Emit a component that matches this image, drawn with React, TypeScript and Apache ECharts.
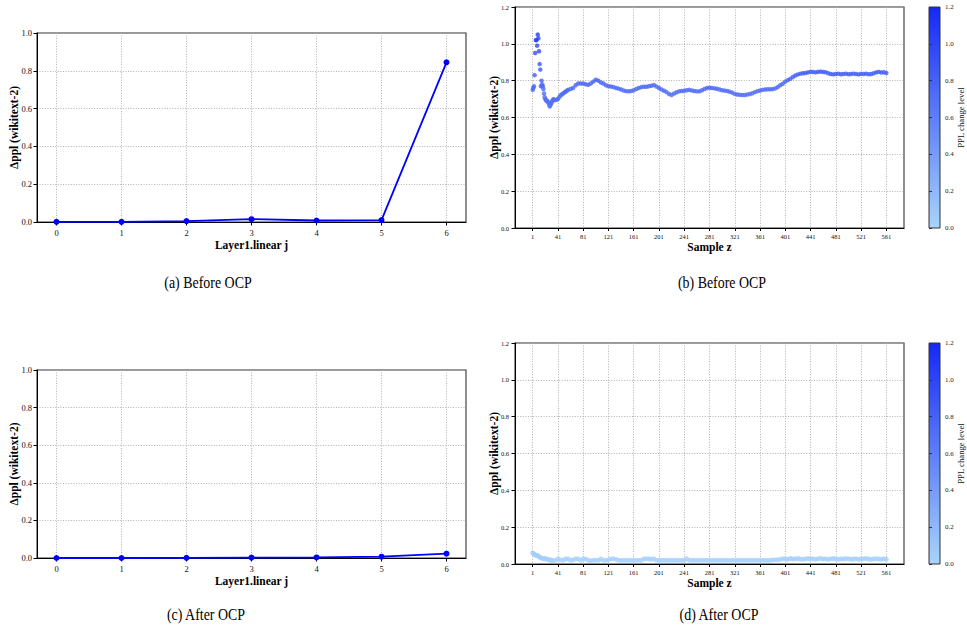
import React, { useEffect, useRef } from "react";
import * as echarts from "echarts";

// ---------- data ----------
const layerTicks = [0, 1, 2, 3, 4, 5, 6];
const beforeLayerDelta = [0.001, 0.001, 0.005, 0.015, 0.008, 0.01, 0.845];
const afterLayerDelta = [0.0, 0.0, 0.001, 0.002, 0.003, 0.007, 0.023];

const sampleTicks = [1, 41, 81, 121, 161, 201, 241, 281, 321, 361, 401, 441, 481, 521, 561];

// (b) before OCP: [sample, delta ppl]
const beforeSamplePoints: [number, number][] = [
  [1, 0.75], [2, 0.76], [3, 0.77], [4, 0.83], [5, 0.95], [6, 1.02], [7, 1.02], [8, 0.99],
  [9, 1.05], [10, 1.03], [11, 0.96], [12, 0.89], [13, 0.86], [14, 0.77], [15, 0.8], [16, 0.78],
  [17, 0.77], [18, 0.755], [19, 0.73], [20, 0.71], [21, 0.7], [22, 0.695], [23, 0.69], [24, 0.69],
  [25, 0.685], [26, 0.68], [27, 0.67], [28, 0.66], [29, 0.665], [30, 0.675], [31, 0.68], [32, 0.69],
  [33, 0.695], [34, 0.7], [35, 0.695], [37, 0.695], [39, 0.697],
  [41, 0.7], [43, 0.71], [45, 0.72], [47, 0.725], [49, 0.73], [51, 0.735], [53, 0.74], [55, 0.745], [57, 0.75],
  [61, 0.755], [65, 0.76], [69, 0.775], [73, 0.785], [77, 0.785], [81, 0.785], [85, 0.78], [89, 0.778],
  [93, 0.785], [97, 0.795], [101, 0.805], [105, 0.8], [109, 0.79], [113, 0.785], [117, 0.775], [121, 0.77],
  [125, 0.768], [129, 0.765], [133, 0.76], [137, 0.757], [141, 0.752], [145, 0.747], [149, 0.743], [153, 0.742],
  [157, 0.744], [161, 0.748], [165, 0.755], [169, 0.76], [173, 0.765], [177, 0.767], [181, 0.767], [185, 0.77],
  [189, 0.772], [193, 0.776], [197, 0.768], [201, 0.76], [205, 0.752], [209, 0.745], [213, 0.738], [217, 0.728],
  [221, 0.722], [225, 0.73], [229, 0.737], [233, 0.742], [237, 0.744], [241, 0.745], [245, 0.748], [249, 0.75],
  [253, 0.747], [257, 0.744], [261, 0.742], [265, 0.742], [269, 0.748], [273, 0.755], [277, 0.76], [281, 0.762],
  [285, 0.76], [289, 0.758], [293, 0.756], [297, 0.752], [301, 0.748], [305, 0.746], [309, 0.744], [313, 0.74],
  [317, 0.735], [321, 0.728], [325, 0.725], [329, 0.723], [333, 0.722], [337, 0.722], [341, 0.725], [345, 0.728],
  [349, 0.732], [353, 0.738], [357, 0.743], [361, 0.747], [365, 0.75], [369, 0.752], [373, 0.753], [377, 0.753],
  [381, 0.754], [385, 0.758], [389, 0.765], [393, 0.775], [397, 0.783], [401, 0.795], [405, 0.803], [409, 0.81],
  [413, 0.82], [417, 0.828], [421, 0.834], [425, 0.838], [429, 0.84], [433, 0.842], [437, 0.845], [441, 0.848],
  [445, 0.847], [449, 0.845], [453, 0.848], [457, 0.849], [461, 0.847], [465, 0.846], [469, 0.84], [473, 0.836],
  [477, 0.834], [481, 0.836], [485, 0.838], [489, 0.835], [493, 0.836], [497, 0.838], [501, 0.835], [505, 0.836],
  [509, 0.838], [513, 0.836], [517, 0.834], [521, 0.837], [525, 0.836], [529, 0.838], [533, 0.835], [537, 0.836],
  [541, 0.84], [545, 0.845], [549, 0.848], [553, 0.844], [557, 0.846], [561, 0.842],
];

// (d) after OCP: [sample, delta ppl]
const afterSamplePoints: [number, number][] = [
  [1, 0.06], [3, 0.055], [5, 0.05], [7, 0.046], [9, 0.045], [11, 0.04], [13, 0.035], [15, 0.032],
  [17, 0.03], [19, 0.03], [21, 0.028], [23, 0.027], [25, 0.025], [27, 0.023], [29, 0.022], [31, 0.02],
  [33, 0.02], [37, 0.02], [41, 0.028], [45, 0.022], [49, 0.02], [53, 0.027], [57, 0.028], [61, 0.02],
  [65, 0.022], [69, 0.028], [73, 0.028], [77, 0.02], [81, 0.028], [85, 0.027], [89, 0.02], [93, 0.018],
  [97, 0.02], [101, 0.02], [105, 0.02], [109, 0.027], [113, 0.02], [117, 0.02], [121, 0.022], [125, 0.028],
  [129, 0.028], [133, 0.025], [137, 0.02], [141, 0.02], [145, 0.02], [149, 0.02], [153, 0.02], [157, 0.02],
  [161, 0.02], [165, 0.02], [169, 0.02], [173, 0.02], [177, 0.028], [181, 0.028], [185, 0.028], [189, 0.025],
  [193, 0.028], [197, 0.02], [201, 0.02], [205, 0.02], [209, 0.02], [213, 0.02], [217, 0.02], [221, 0.02],
  [225, 0.02], [229, 0.02], [233, 0.02], [237, 0.02], [241, 0.02], [245, 0.028], [249, 0.02], [253, 0.02],
  [257, 0.02], [261, 0.02], [265, 0.02], [269, 0.02], [273, 0.02], [277, 0.02], [281, 0.02], [285, 0.02],
  [289, 0.02], [293, 0.02], [297, 0.02], [301, 0.02], [305, 0.02], [309, 0.02], [313, 0.02], [317, 0.02],
  [321, 0.02], [325, 0.02], [329, 0.02], [333, 0.02], [337, 0.02], [341, 0.02], [345, 0.02], [349, 0.02],
  [353, 0.02], [357, 0.02], [361, 0.02], [365, 0.02], [369, 0.02], [373, 0.02], [377, 0.02], [381, 0.022],
  [385, 0.022], [389, 0.022], [393, 0.025], [397, 0.028], [401, 0.028], [405, 0.025], [409, 0.03], [413, 0.027],
  [417, 0.028], [421, 0.03], [425, 0.027], [429, 0.025], [433, 0.028], [437, 0.03], [441, 0.027], [445, 0.028],
  [449, 0.025], [453, 0.028], [457, 0.03], [461, 0.027], [465, 0.028], [469, 0.025], [473, 0.028], [477, 0.03],
  [481, 0.027], [485, 0.025], [489, 0.028], [493, 0.027], [497, 0.03], [501, 0.028], [505, 0.025], [509, 0.027],
  [513, 0.028], [517, 0.025], [521, 0.027], [525, 0.028], [529, 0.03], [533, 0.027], [537, 0.025], [541, 0.028],
  [545, 0.028], [549, 0.027], [553, 0.025], [557, 0.028], [561, 0.025],
];

const captions = ["(a) Before OCP", "(b) Before OCP", "(c) After OCP", "(d) After OCP"];

// ---------- styling ----------
const SERIF = "Liberation Serif, DejaVu Serif, serif";
const LIGHT = "#a9d4fb";
const DARK = "#1528f5";
const LINE_BLUE = "#0000ff";
const TICK_TEXT = "#111";

const splitLine = {
  show: true,
  lineStyle: { color: "#a8a8a8", width: 0.9, type: [1, 1.6] as any },
};
const axisLine = { show: true, onZero: false, lineStyle: { color: "#000", width: 1 } };
const nameStyle = { fontFamily: SERIF, fontWeight: "bold" as const, fontSize: 11.5, color: "#000" };

function layerXAxis(gridIndex: number) {
  return {
    type: "value",
    gridIndex,
    min: -0.3,
    max: 6.3,
    name: "Layer1.linear j",
    nameLocation: "middle",
    nameGap: 17,
    nameMoveOverlap: false,
    nameTextStyle: nameStyle,
    axisLine,
    axisTick: { show: true, customValues: layerTicks, length: 3.5, lineStyle: { color: "#000" } },
    axisLabel: { customValues: layerTicks, fontSize: 8.5, margin: 6, color: TICK_TEXT, fontFamily: SERIF },
    splitLine,
  };
}

function sampleXAxis(gridIndex: number, nameGap: number) {
  return {
    type: "value",
    gridIndex,
    min: -27,
    max: 589,
    name: "Sample z",
    nameLocation: "middle",
    nameGap,
    nameMoveOverlap: false,
    nameTextStyle: nameStyle,
    axisLine,
    axisTick: { show: true, customValues: sampleTicks, length: 3, lineStyle: { color: "#000" } },
    axisLabel: { customValues: sampleTicks, fontSize: 6.5, margin: 5, color: TICK_TEXT, fontFamily: SERIF },
    splitLine,
  };
}

function pplYAxis(gridIndex: number, max: number, nameGap: number, fontSize: number, margin: number) {
  return {
    type: "value",
    gridIndex,
    min: 0,
    max,
    interval: 0.2,
    name: "Δppl (wikitext-2)",
    nameLocation: "middle",
    nameRotate: 90,
    nameGap,
    nameMoveOverlap: false,
    nameTextStyle: nameStyle,
    axisLine,
    axisTick: { show: true, length: 3.5, lineStyle: { color: "#000" } },
    axisLabel: {
      fontSize,
      margin,
      color: TICK_TEXT,
      fontFamily: SERIF,
      formatter: (v: number) => v.toFixed(1),
    },
    splitLine,
  };
}

function colorbarYAxis(gridIndex: number) {
  return {
    type: "value",
    gridIndex,
    position: "right",
    min: 0,
    max: 1.2,
    interval: 0.2,
    name: "PPL change level",
    nameLocation: "middle",
    nameRotate: 90,
    nameGap: 16,
    nameMoveOverlap: false,
    nameTextStyle: { fontFamily: SERIF, fontSize: 8.7, color: "#111" },
    axisLine: { show: false },
    axisTick: { show: true, length: 3, lineStyle: { color: "#333" } },
    axisLabel: {
      fontSize: 7,
      margin: 5,
      color: "#222",
      fontFamily: SERIF,
      formatter: (v: number) => v.toFixed(1),
    },
    splitLine: { show: false },
  };
}

const plotGrid = (left: number, top: number, width: number, height: number) => ({
  left,
  top,
  width,
  height,
  show: true,
  borderColor: "#333",
  borderWidth: 1.1,
  backgroundColor: "transparent",
  containLabel: false,
  outerBoundsMode: "none",
});

const colorbarGrid = (left: number, top: number, width: number, height: number) => ({
  left,
  top,
  width,
  height,
  show: true,
  borderColor: "#333",
  borderWidth: 1,
  backgroundColor: {
    type: "linear",
    x: 0,
    y: 1,
    x2: 0,
    y2: 0,
    colorStops: [
      { offset: 0, color: LIGHT },
      { offset: 1, color: DARK },
    ],
  },
  containLabel: false,
  outerBoundsMode: "none",
});

export default function App() {
  const ref = useRef<HTMLDivElement>(null);

  useEffect(() => {
    if (!ref.current) return;
    const chart = echarts.init(ref.current, undefined, { renderer: "svg" });

    const captionText = (text: string, x: number, y: number) => ({
      type: "text",
      x,
      y,
      scaleX: 0.82,
      style: {
        text,
        fontFamily: SERIF,
        fontSize: 17,
        fill: "#000",
        align: "center",
        verticalAlign: "middle",
      },
    });

    chart.setOption({
      animation: false,
      backgroundColor: "#fff",
      grid: [
        plotGrid(37, 33, 429, 189),
        plotGrid(515, 7, 389, 221),
        plotGrid(37, 370, 429, 188),
        plotGrid(515, 343, 389, 221),
        colorbarGrid(929, 7, 11, 221),
        colorbarGrid(929, 343, 11, 221),
      ],
      xAxis: [
        layerXAxis(0),
        sampleXAxis(1, 13),
        layerXAxis(2),
        sampleXAxis(3, 13),
        { type: "value", gridIndex: 4, show: false, min: 0, max: 1 },
        { type: "value", gridIndex: 5, show: false, min: 0, max: 1 },
      ],
      yAxis: [
        pplYAxis(0, 1.0, 17, 8.5, 5),
        pplYAxis(1, 1.2, 15, 6.5, 6),
        pplYAxis(2, 1.0, 17, 8.5, 5),
        pplYAxis(3, 1.2, 15, 6.5, 6),
        colorbarYAxis(4),
        colorbarYAxis(5),
      ],
      visualMap: {
        type: "continuous",
        show: false,
        min: 0,
        max: 1.2,
        dimension: 1,
        seriesIndex: [2, 3],
        inRange: { color: [LIGHT, DARK] },
      },
      series: [
        {
          type: "line",
          xAxisIndex: 0,
          yAxisIndex: 0,
          data: layerTicks.map((j, i) => [j, beforeLayerDelta[i]]),
          symbol: "circle",
          symbolSize: 6,
          lineStyle: { color: LINE_BLUE, width: 1.8 },
          itemStyle: { color: LINE_BLUE },
          z: 5,
        },
        {
          type: "line",
          xAxisIndex: 2,
          yAxisIndex: 2,
          data: layerTicks.map((j, i) => [j, afterLayerDelta[i]]),
          symbol: "circle",
          symbolSize: 6,
          lineStyle: { color: LINE_BLUE, width: 1.8 },
          itemStyle: { color: LINE_BLUE },
          z: 5,
        },
        {
          type: "scatter",
          xAxisIndex: 1,
          yAxisIndex: 1,
          data: beforeSamplePoints,
          symbolSize: 4.5,
          z: 5,
        },
        {
          type: "scatter",
          xAxisIndex: 3,
          yAxisIndex: 3,
          data: afterSamplePoints,
          symbolSize: 5,
          z: 5,
        },
      ],
      graphic: [
        captionText(captions[0], 208, 282),
        captionText(captions[1], 722, 282),
        captionText(captions[2], 206, 614),
        captionText(captions[3], 719, 614),
      ],
    });

    return () => {
      chart.dispose();
    };
  }, []);

  return (
    <div
      ref={ref}
      style={{ position: "fixed", left: 0, top: 0, width: 967, height: 635, background: "#fff" }}
    />
  );
}
